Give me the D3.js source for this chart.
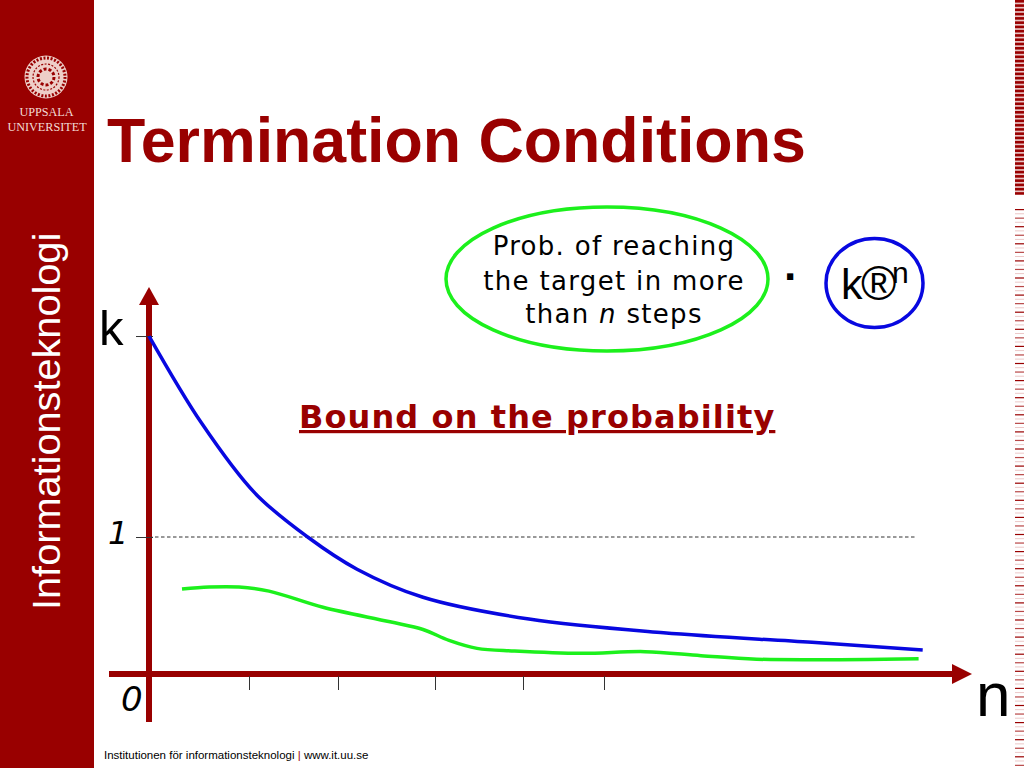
<!DOCTYPE html>
<html><head><meta charset="utf-8">
<script src="https://cdnjs.cloudflare.com/ajax/libs/d3/7.8.5/d3.min.js"></script>
<style>html,body{margin:0;padding:0;background:#fff;overflow:hidden}svg{display:block}text{font-family:"Liberation Sans",Arial,sans-serif}</style>
</head><body><svg id="c" width="1024" height="768"></svg>
<script>
const blueN=[0,.527,1.06,1.59,2.08,2.74,3.80,5.145,6.63,7.737];
const blueV=[2.467,1.830,1.320,.998,.765,.560,.401,.301,.231,.175];
const greenN=[.33,.6,.9,1.2,1.74,2.41,2.74,3.0,3.28,3.655,4.325,4.96,5.52,6.076,7.696];
const greenV=[.620,.635,.635,.605,.487,.381,.325,.245,.187,.168,.151,.163,.134,.108,.112];
const xTicks=[1,1.89,2.86,3.74,4.55];
const yTicks=[1,2.467];
const red="#990000";
const svg=d3.select("#c");
const x=d3.scaleLinear().domain([0,8]).range([149,949]);
const y=d3.scaleLinear().domain([0,1]).range([674,537]);
const T=(s,px,py,size,o={})=>svg.append("text").attr("x",px).attr("y",py).attr("font-size",size)
  .attr("fill",o.fill||"#000").attr("font-weight",o.w||null).attr("font-style",o.i?"italic":null)
  .attr("text-anchor",o.a||"start").style("font-family",o.f||null).style("letter-spacing",o.ls||null).text(s);
// sidebar
svg.append("rect").attr("width",94).attr("height",768).attr("fill",red);
// seal
const seal=svg.append("g").attr("transform","translate(46,77)");
seal.append("circle").attr("r",21.5).attr("fill","#eecfc8");
seal.append("circle").attr("r",19).attr("fill","none").attr("stroke",red).attr("stroke-width",3).attr("stroke-dasharray","2 1.6");
seal.append("circle").attr("r",13).attr("fill","none").attr("stroke",red).attr("stroke-width",1.2).attr("stroke-dasharray","2 1.5");
seal.append("circle").attr("r",8).attr("fill","none").attr("stroke",red).attr("stroke-width",3).attr("stroke-dasharray","3 2");
T("UPPSALA",46.5,116,12.2,{fill:"#f3dcd6",a:"middle",f:"'Liberation Serif',serif"});
T("UNIVERSITET",47,131,12.2,{fill:"#f3dcd6",a:"middle",f:"'Liberation Serif',serif"});
svg.append("text").attr("transform","translate(60,610) rotate(-90)").attr("font-size",39.7).attr("fill","#fff").text("Informationsteknologi");
// right stripes
svg.append("rect").attr("x",1015).attr("y",0).attr("width",9).attr("height",193).attr("fill","#e8c4c4");
svg.selectAll(".s1").data(d3.range(0,193,4.27)).join("rect").attr("x",1015).attr("width",9).attr("y",d=>d).attr("height",2.6).attr("fill",red);
const per=d3.range(209,768,17.1);
svg.selectAll(".s2").data(per).join("rect").attr("x",1015).attr("width",9).attr("y",d=>d).attr("height",1.2).attr("fill",red);
svg.selectAll(".s3").data(per).join("rect").attr("x",1015).attr("width",9).attr("y",d=>d+8.55).attr("height",1.2).attr("fill","#b84848");
svg.selectAll(".s4").data(per).join("rect").attr("x",1015).attr("width",9).attr("y",d=>d+4.27).attr("height",1).attr("fill","#ecc8c8");
svg.selectAll(".s5").data(per).join("rect").attr("x",1015).attr("width",9).attr("y",d=>d+12.8).attr("height",1).attr("fill","#ecc8c8");
// title
T("Termination Conditions",107,162,62.7,{fill:red,w:"bold"});
// bubbles
svg.append("ellipse").attr("cx",607).attr("cy",279).attr("rx",161).attr("ry",72).attr("fill","none").attr("stroke","#1cf01c").attr("stroke-width",3.5);
svg.append("ellipse").attr("cx",874.5).attr("cy",283).attr("rx",48.5).attr("ry",44.5).attr("fill","none").attr("stroke","#0808e0").attr("stroke-width",3.5);
const dj="'DejaVu Sans',sans-serif";
T("Prob. of reaching",614,255,26,{a:"middle",f:dj,ls:"1.3px"});
T("the target in more",614,290,26,{a:"middle",f:dj,ls:"1.33px"});
const l3=T("than ",614,323,26,{a:"middle",f:dj,ls:"1.3px"});
l3.append("tspan").attr("font-style","italic").text("n");
l3.append("tspan").text(" steps");
T("·",784,292,44,{w:"bold"});
T("k",841,299,43);
T("®",861,300,48);
T("n",892,283,30);
T("Bound on the probability",299,428,32,{fill:red,w:"bold",f:dj,ls:"1.1px"}).attr("text-decoration","underline");
// gridline
svg.append("line").attr("x1",x(0)).attr("x2",917).attr("y1",y(1)).attr("y2",y(1)).attr("stroke","#333").attr("stroke-width",1).attr("stroke-dasharray","3.5 2.5");
// curves
const line=d3.line().curve(d3.curveCatmullRom.alpha(0.5));
const ptsB=blueN.map((n,i)=>[x(n),y(blueV[i])]);
const ptsG=greenN.map((n,i)=>[x(n),y(greenV[i])]);
svg.append("path").attr("d",line(ptsG)).attr("fill","none").attr("stroke","#1cf01c").attr("stroke-width",3.5);
// axes with arrows
svg.append("rect").attr("x",146).attr("y",304).attr("width",6).attr("height",418).attr("fill",red);
svg.append("path").attr("d","M149,287L159,305L139,305Z").attr("fill",red);
svg.append("rect").attr("x",109).attr("y",671).attr("width",845).attr("height",6).attr("fill",red);
svg.append("path").attr("d","M972,674L952,664L952,684Z").attr("fill",red);
// ticks via axes
const ax=svg.append("g").attr("transform","translate(0,676)").call(d3.axisBottom(x).tickValues(xTicks).tickSize(14).tickFormat(""));
ax.select(".domain").remove();ax.selectAll("line").attr("stroke","#333");
const ay=svg.append("g").attr("transform","translate(153,0)").call(d3.axisLeft(y).tickValues(yTicks).tickSize(17).tickFormat(""));
ay.select(".domain").remove();ay.selectAll("line").attr("stroke","#333");
svg.append("path").attr("d",line(ptsB)).attr("fill","none").attr("stroke","#0808e0").attr("stroke-width",3.5);
// labels
T("k",99,345,49);
T("1",108,544,32,{i:1,f:dj});
T("0",121,711,34,{i:1,f:dj});
T("n",976,716,62);
const f=T("Institutionen för informationsteknologi ",104,759,11.5);
f.append("tspan").attr("fill",red).text("| ");
f.append("tspan").text("www.it.uu.se");
</script></body></html>
